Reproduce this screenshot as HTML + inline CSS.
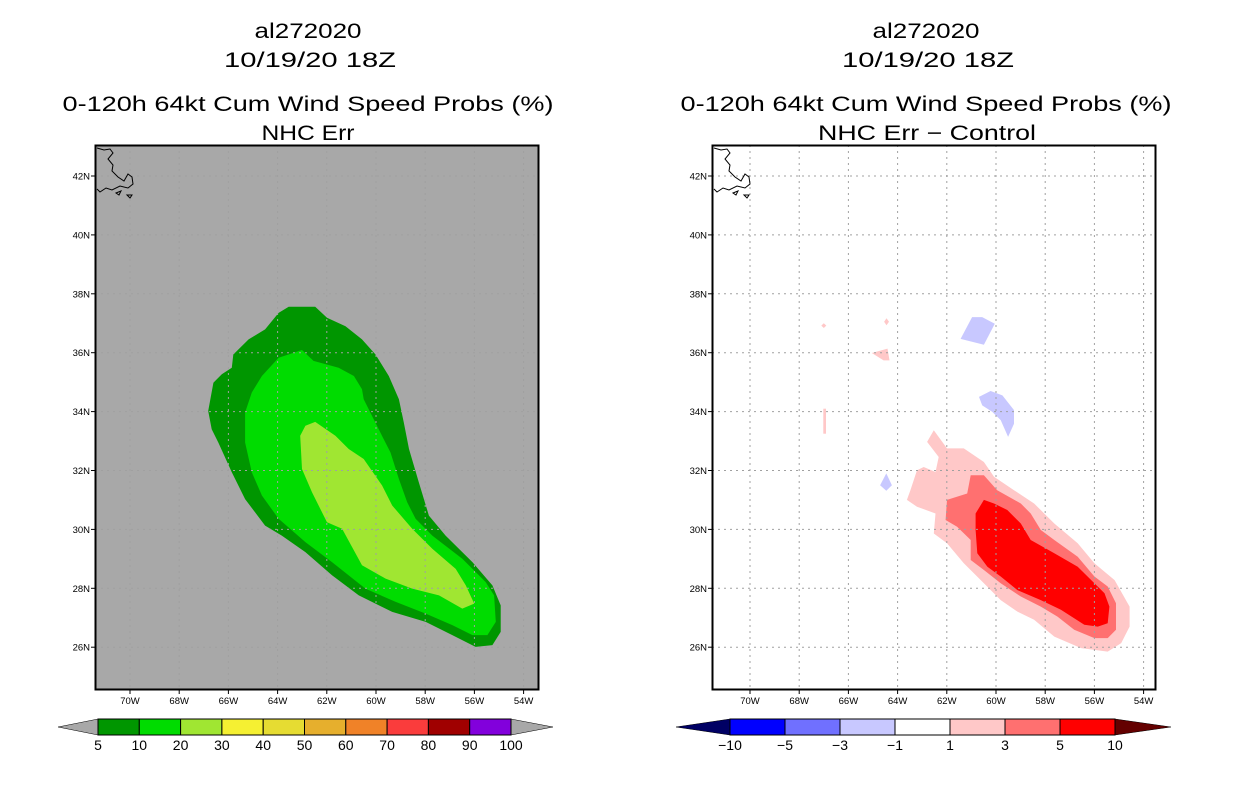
<!DOCTYPE html>
<html><head><meta charset="utf-8"><style>
html,body{margin:0;padding:0;background:#fff;}
svg{display:block;font-family:"Liberation Sans",sans-serif;}
</style></head><body>
<svg id="chart" width="1236" height="800" viewBox="0 0 1236 800" xmlns="http://www.w3.org/2000/svg">
<rect width="1236" height="800" fill="#fff"/>
<g id="titles" font-size="21" fill="#000" text-anchor="middle">
  <text x="308" y="38" textLength="107" lengthAdjust="spacingAndGlyphs">al272020</text>
  <text x="310" y="67" textLength="172" lengthAdjust="spacingAndGlyphs">10/19/20 18Z</text>
  <text x="308" y="111" textLength="491" lengthAdjust="spacingAndGlyphs">0-120h 64kt Cum Wind Speed Probs (%)</text>
  <text x="308" y="140" textLength="93" lengthAdjust="spacingAndGlyphs">NHC Err</text>
  <text x="926" y="38" textLength="107" lengthAdjust="spacingAndGlyphs">al272020</text>
  <text x="928" y="67" textLength="172" lengthAdjust="spacingAndGlyphs">10/19/20 18Z</text>
  <text x="926" y="111" textLength="491" lengthAdjust="spacingAndGlyphs">0-120h 64kt Cum Wind Speed Probs (%)</text>
  <text x="927" y="140" textLength="218" lengthAdjust="spacingAndGlyphs">NHC Err − Control</text>
</g>
</svg>
<script>
// ---- data ----
const lonTicks = [-70,-68,-66,-64,-62,-60,-58,-56,-54];
const lonTickLabels = ["70W","68W","66W","64W","62W","60W","58W","56W","54W"];
const latTicks = [26,28,30,32,34,36,38,42,40];
const latTickLabels = ["26N","28N","30N","32N","34N","36N","38N","42N","40N"];

const prob5Lon = [-63.55,-62.47,-61.99,-61.24,-60.57,-60.02,-59.48,-59.07,-58.87,-58.66,-58.26,-57.85,-57.17,-56.08,-55.27,-54.93,-54.93,-55.27,-55.95,-56.90,-57.98,-59.34,-60.70,-61.79,-62.87,-63.83,-64.51,-65.32,-65.86,-66.41,-66.68,-66.82,-66.61,-66.27,-65.86,-65.80,-65.18,-64.51,-63.96];
const prob5Lat = [37.56,37.56,37.19,36.90,36.45,35.94,35.21,34.42,33.63,32.73,31.60,30.47,29.79,28.89,28.10,27.42,26.52,26.07,26.01,26.41,26.86,27.20,27.76,28.44,29.23,29.79,30.13,31.03,31.94,32.95,33.40,34.02,34.98,35.27,35.49,35.94,36.45,36.79,37.35];
const prob10Lon = [-63.96,-63.01,-62.54,-61.52,-60.90,-60.57,-60.50,-59.89,-59.41,-59.07,-58.73,-58.39,-57.71,-56.49,-55.54,-55.20,-55.13,-55.47,-56.08,-56.90,-57.98,-59.21,-60.43,-61.79,-62.87,-63.96,-64.64,-65.05,-65.32,-65.32,-65.05,-64.64];
const prob10Lat = [35.83,36.09,35.72,35.49,35.21,34.76,34.42,33.40,32.61,31.71,30.92,30.36,29.79,29.00,28.21,27.76,26.86,26.41,26.41,26.75,27.14,27.54,27.99,28.89,29.57,30.36,31.15,31.94,32.95,33.97,34.65,35.21];
const prob20Lon = [-62.47,-61.65,-61.11,-60.50,-59.75,-59.34,-58.53,-57.71,-56.76,-56.35,-56.01,-56.49,-57.44,-58.53,-59.61,-60.57,-61.38,-61.99,-62.60,-63.01,-63.08,-62.87];
const prob20Lat = [33.65,33.18,32.73,32.39,31.49,30.81,30.02,29.34,28.66,28.10,27.48,27.31,27.76,27.99,28.33,28.78,30.02,30.24,31.26,32.05,33.18,33.52];

const diff1Lon = [-62.53,-61.99,-61.31,-60.49,-60.08,-59.27,-58.45,-57.63,-56.68,-56.00,-55.18,-54.57,-54.57,-54.91,-55.46,-56.54,-57.63,-58.45,-59.13,-59.81,-60.49,-61.31,-61.99,-62.53,-62.46,-63.21,-63.62,-63.48,-63.21,-62.94,-62.46,-62.33,-62.80];
const diff1Lat = [33.37,32.75,32.75,32.29,31.79,31.33,30.88,30.20,29.53,28.85,28.28,27.38,26.70,26.14,25.85,25.97,26.36,26.93,27.21,27.60,28.17,28.85,29.53,29.86,30.54,30.77,31.00,31.33,32.01,32.12,31.95,32.46,32.97];
const diff3Lon = [-61.03,-60.49,-59.95,-58.99,-58.59,-58.18,-57.63,-56.68,-56.00,-55.46,-55.12,-55.12,-55.46,-56.00,-56.82,-57.50,-58.18,-58.99,-59.81,-60.49,-61.03,-61.03,-61.58,-62.05,-61.99,-61.17];
const diff3Lat = [31.84,31.84,31.33,30.88,30.54,29.98,29.64,29.07,28.40,28.06,27.49,26.59,26.31,26.31,26.59,27.04,27.38,27.72,28.17,28.62,28.96,29.64,30.09,30.32,31.00,31.22];
const diff5Lon = [-60.49,-60.08,-59.54,-58.99,-58.59,-57.63,-56.68,-56.00,-55.59,-55.39,-55.46,-55.86,-56.41,-57.36,-58.18,-59.13,-59.81,-60.35,-60.76,-60.83,-60.83];
const diff5Lat = [31.00,30.88,30.66,30.20,29.64,29.19,28.73,28.17,27.83,27.38,26.81,26.70,26.76,27.27,27.60,27.94,28.40,28.73,29.19,29.98,30.54];
const negALon = [-60.97,-60.56,-60.05,-60.49,-61.44];
const negALat = [37.21,37.21,36.98,36.27,36.47];
const negBLon = [-60.69,-60.22,-59.74,-59.27,-59.27,-59.51,-59.81,-60.15,-60.56];
const negBLat = [34.50,34.70,34.55,34.05,33.59,33.14,33.71,33.99,34.21];
const negCLon = [-64.46,-64.23,-64.46,-64.71];
const negCLat = [31.90,31.50,31.31,31.50];
const posDLon = [-65.05,-64.41,-64.33,-64.57];
const posDLat = [35.99,36.14,35.74,35.74];
const posELon = [-67.02,-66.91,-66.91,-67.02];
const posELat = [34.10,34.10,33.25,33.25];
const posFLon = [-64.45,-64.35,-64.45,-64.55];
const posFLat = [37.17,37.05,36.93,37.05];
const posGLon = [-67.00,-66.90,-67.00,-67.10];
const posGLat = [37.00,36.92,36.84,36.92];

const probLevels = ["5","10","20","30","40","50","60","70","80","90","100"];
const probColors = ["#009600","#00dc00","#a0e632","#f5f032","#e6dc32","#e6af2d","#f08228","#fa3c3c","#a00000","#8200dc"];
const diffLevels = ["−10","−5","−3","−1","1","3","5","10"];
const diffColors = ["#0000ff","#7070ff","#c8c8ff","#ffffff","#ffc8c8","#ff7070","#ff0000"];

// ---- geometry ----
const NS = "http://www.w3.org/2000/svg";
const svg = document.getElementById("chart");
const PX_PER_LON = 24.6, PX_PER_LAT = 29.45;
const panels = [{x0:95,x1:539,lon70:130,prefix:"left",bg:"#a8a8a8"},{x0:712,x1:1156,lon70:750,prefix:"right",bg:"#ffffff"}];
const Y0 = 145, Y1 = 690, LAT42 = 176;
function xScale(p, lon){ return p.lon70 + (lon + 70) * PX_PER_LON; }
function yScale(lat){ return LAT42 - (lat - 42) * PX_PER_LAT; }
function mk(tag, attrs, parent){ const e = document.createElementNS(NS, tag); for (const k in attrs) e.setAttribute(k, attrs[k]); (parent||svg).appendChild(e); return e; }
function poly(p, lons, lats, fill, name, parent){
  const pts = lons.map((lo,i)=> xScale(p,lo).toFixed(1)+","+yScale(lats[i]).toFixed(1)).join(" ");
  const e = mk("polygon", {points:pts, fill:fill}, parent);
  
  
  return e;
}

panels.forEach((p, pi) => {
  const g = mk("g", {});
  
  
  const cp = mk("clipPath", {id:"clip"+pi}, g);
  mk("rect", {x:p.x0, y:Y0, width:p.x1-p.x0, height:Y1-Y0}, cp);
  const bg = mk("rect", {x:p.x0, y:Y0, width:p.x1-p.x0, height:Y1-Y0, fill:p.bg}, g);
  
  
  const cg = mk("g", {"clip-path":"url(#clip"+pi+")"}, g);
  if (pi === 0) {
    poly(p, prob5Lon, prob5Lat, probColors[0], "contour-5-percent", cg);
    poly(p, prob10Lon, prob10Lat, probColors[1], "contour-10-percent", cg);
    poly(p, prob20Lon, prob20Lat, probColors[2], "contour-20-percent", cg);
  } else {
    poly(p, diff1Lon, diff1Lat, diffColors[4], "contour-plus-1", cg);
    poly(p, diff3Lon, diff3Lat, diffColors[5], "contour-plus-3", cg);
    poly(p, diff5Lon, diff5Lat, diffColors[6], "contour-plus-5", cg);
    poly(p, negALon, negALat, diffColors[2], "contour-minus-1-a", cg);
    poly(p, negBLon, negBLat, diffColors[2], "contour-minus-1-b", cg);
    poly(p, negCLon, negCLat, diffColors[2], "contour-minus-1-c", cg);
    poly(p, posDLon, posDLat, diffColors[4], "contour-plus-1-d", cg);
    poly(p, posELon, posELat, diffColors[4], "contour-plus-1-e", cg);
    poly(p, posFLon, posFLat, diffColors[4], "contour-plus-1-f", cg);
    poly(p, posGLon, posGLat, diffColors[4], "contour-plus-1-g", cg);
  }
  // grid
  lonTicks.forEach(lo => {
    const x = xScale(p, lo);
    const l = mk("line", {x1:x, x2:x, y1:Y0, y2:Y1, stroke:"#a0a0a0", "stroke-width":1, "stroke-dasharray":"2,4"}, cg);
    
    
  });
  latTicks.forEach(la => {
    const y = yScale(la);
    const l = mk("line", {x1:p.x0, x2:p.x1, y1:y, y2:y, stroke:"#a0a0a0", "stroke-width":1, "stroke-dasharray":"2,4"}, cg);
    
    
  });
  // coastline (Cape Cod)
  const ox = p.x0 - 95;
  const coast = mk("path", {d:`M${97+ox},148 L${104+ox},150 L${110+ox},149 L${113+ox},153 L${108+ox},159 L${113+ox},165 L${112+ox},171 L${118+ox},177 L${124+ox},181 L${128+ox},174 L${132+ox},177 L${133+ox},184 L${128+ox},188 L${120+ox},186 L${112+ox},190 L${106+ox},188 L${100+ox},192 L${97+ox},189 M${116+ox},193 L${121+ox},191 L${119+ox},195 Z M${127+ox},195 L${132+ox},195 L${130+ox},198 Z`, fill:"none", stroke:"#000", "stroke-width":1}, g);
  
  
  const fr = mk("rect", {x:p.x0+0.5, y:Y0+0.5, width:p.x1-p.x0-1, height:Y1-Y0-1, fill:"none", stroke:"#000", "stroke-width":2}, g);
  
  
  // ticks & labels
  lonTicks.forEach((lo,i) => {
    const x = xScale(p, lo);
    mk("line", {x1:x, x2:x, y1:Y1, y2:Y1+4, stroke:"#000"}, g);
    const t = mk("text", {x:x, y:Y1+14, "font-size":9.5, "text-anchor":"middle", fill:"#000"}, g);
    t.textContent = lonTickLabels[i];
    
    
  });
  latTicks.forEach((la,i) => {
    const y = yScale(la);
    mk("line", {x1:p.x0-4, x2:p.x0, y1:y, y2:y, stroke:"#000"}, g);
    const t = mk("text", {x:p.x0-5, y:y+3.5, "font-size":9.5, "text-anchor":"end", fill:"#000"}, g);
    t.textContent = latTickLabels[i];
    
    
  });
});

// ---- colorbars ----
function colorbar(name, x0, x1, tipL, tipR, colors, levels, leftCap, rightCap){
  const g = mk("g", {});
  
  
  const yT = 719, yB = 735, yM = 727;
  const w = (x1 - x0) / colors.length;
  const l = mk("polygon", {points:`${tipL},${yM} ${x0},${yT} ${x0},${yB}`, fill:leftCap, stroke:"#000", "stroke-width":0.5}, g);
  
  
  const r = mk("polygon", {points:`${tipR},${yM} ${x1},${yT} ${x1},${yB}`, fill:rightCap, stroke:"#000", "stroke-width":0.5}, g);
  
  
  colors.forEach((c,i) => {
    const b = mk("rect", {x:x0+i*w, y:yT, width:w, height:yB-yT, fill:c, stroke:"#000", "stroke-width":1}, g);
    
    
  });
  levels.forEach((lv,i) => {
    const t = mk("text", {x:x0+i*w, y:yB+15, "font-size":14, "text-anchor":"middle", fill:"#000"}, g);
    t.textContent = lv;
    
    
  });
}
colorbar("probability-colorbar", 98, 511, 58, 553, probColors, probLevels, "#a8a8a8", "#a8a8a8");
colorbar("difference-colorbar", 730, 1115, 676, 1171, diffColors, diffLevels, "#000064", "#640000");
</script>
</body></html>
